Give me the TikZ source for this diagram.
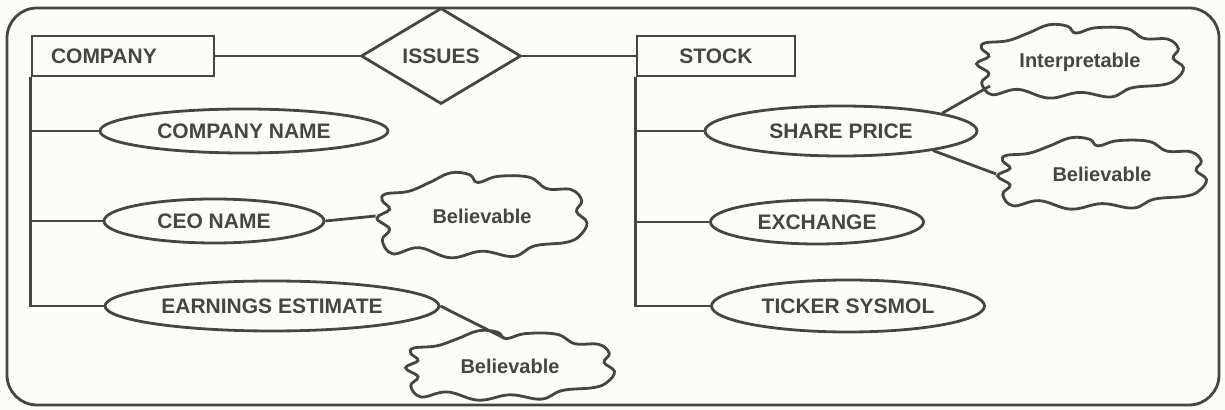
\documentclass[tikz,border=0pt]{standalone}
\usepackage{fontspec}
\setmainfont{Liberation Sans}
\usetikzlibrary{shapes.geometric,calc}
\definecolor{ink}{HTML}{464641}
\definecolor{paper}{HTML}{FCFCFA}

% wavy outline of a comment cloud, in units of its half width / half height
\newcommand{\cloudline}[3]{%
  \begin{scope}[shift={(#1.center)}, xscale=#2, yscale=#3]
    \draw plot[smooth cycle, tension=0.65] coordinates {
      (-0.92,-0.50) (-0.70,-0.56) (-0.50,-0.76) (-0.30,-0.98) (-0.12,-0.94)
      (-0.04,-0.76) (0.15,-0.90) (0.45,-0.88) (0.62,-0.62) (0.85,-0.60)
      (0.95,-0.35) (0.90,-0.10) (1.00,0.15) (0.93,0.45) (0.80,0.60)
      (0.50,0.68) (0.30,0.92) (0.00,0.80) (-0.30,0.95) (-0.60,0.72)
      (-0.85,0.86) (-0.95,0.55) (-0.88,0.30) (-1.00,0.05) (-0.88,-0.15)
      (-0.95,-0.35)};
  \end{scope}}

\begin{document}
\begin{tikzpicture}[x=0.5pt, y=-0.5pt, line width=1.4pt, draw=ink, text=ink,
  font=\bfseries\fontsize{10.5}{11}\selectfont,
  entity/.style={draw, rectangle, minimum height=20pt, inner sep=0pt},
  relation/.style={draw, diamond, inner sep=0pt, minimum width=80pt, minimum height=48pt},
  attr/.style={draw, ellipse, inner sep=0pt},
  label text/.style={inner sep=0pt},
  cloudtext/.style={inner sep=0pt, font=\bfseries\fontsize{10}{11}\selectfont}]

\fill[paper] (0,0) rectangle (1225,410);
\useasboundingbox (0,0) rectangle (1225,410);

% outer frame
\draw[rounded corners=15pt] (7,8) rectangle (1219,405);

% entities and relationship
\node[entity, minimum width=91pt, text width=72pt, align=left, inner xsep=9.5pt]
  (company) at (123,56) {COMPANY};
\node[relation] (issues) at (441,56) {};
\node[label text] (issues-t) at (issues) {ISSUES};
\node[entity, minimum width=79pt] (stock) at (716,56) {STOCK};

% attributes of COMPANY
\node[attr, minimum width=144pt, minimum height=22pt] (cn) at (244,131) {};
\node[label text] (cn-t) at (cn) {COMPANY NAME};
\node[attr, minimum width=110pt, minimum height=22pt] (ceo) at (214,221) {};
\node[label text] (ceo-t) at (ceo) {CEO NAME};
\node[attr, minimum width=167pt, minimum height=25pt] (ee) at (272,306) {};
\node[label text] (ee-t) at (ee) {EARNINGS ESTIMATE};

% attributes of STOCK
\node[attr, minimum width=136pt, minimum height=25pt] (sp) at (841,131) {};
\node[label text] (sp-t) at (sp) {SHARE PRICE};
\node[attr, minimum width=106.5pt, minimum height=22pt] (ex) at (817,222) {};
\node[label text] (ex-t) at (ex) {EXCHANGE};
\node[attr, minimum width=136.5pt, minimum height=26pt] (ts) at (848,306) {};
\node[label text] (ts-t) at (ts) {TICKER SYSMOL};

% quality annotations
\node[cloudtext, minimum width=105pt, minimum height=44pt] (c1) at (482,216) {Believable};
\node[cloudtext, minimum width=104.5pt, minimum height=36pt] (c2) at (510,366) {Believable};
\node[cloudtext, minimum width=103.5pt, minimum height=38pt] (c3) at (1080,62) {Interpretable};
\node[cloudtext, minimum width=104.5pt, minimum height=37pt] (c4) at (1102,174) {Believable};
\cloudline{c1}{105}{44}
\cloudline{c2}{104.5}{36}
\cloudline{c3}{103.5}{38}
\cloudline{c4}{104.5}{37}

% connectors
\draw (company.east) -- (issues.west);
\draw (issues.east) -- (stock.west);
\draw (company.south west) -- (company.south west |- ee.west) -- (ee.west);
\draw (company.south west |- cn.west) -- (cn.west);
\draw (company.south west |- ceo.west) -- (ceo.west);
\draw (stock.south west) -- (stock.south west |- ts.west) -- (ts.west);
\draw (stock.south west |- sp.west) -- (sp.west);
\draw (stock.south west |- ex.west) -- (ex.west);

\coordinate (c2in) at ($(c2)+(-6,-28)$);
\coordinate (c3in) at ($(c3)+(-90,24)$);
\draw (ceo.east) -- (c1.west);
\draw (ee.east) -- (c2in);
\draw (sp.10) -- (c3in);
\draw (sp.-12) -- (c4.west);
\end{tikzpicture}
\end{document}
